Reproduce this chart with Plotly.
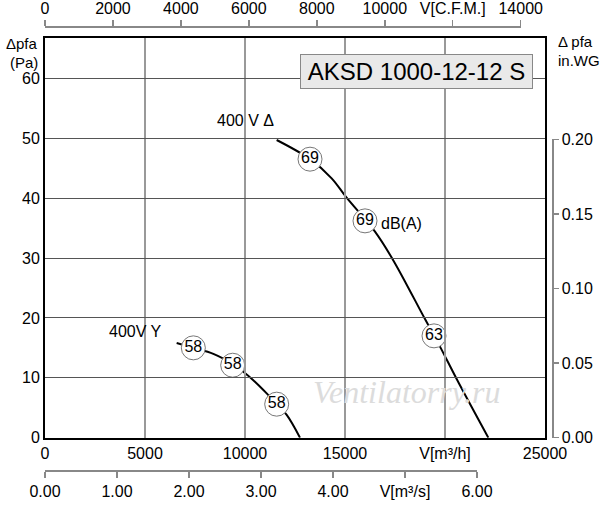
import plotly.graph_objects as go

# ---------------- data ----------------
# 400 V Delta curve (m3/h, Pa)
delta_q = [11583, 13250, 14333, 15050, 16500, 17417, 19000, 19750, 20583, 22167]
delta_p = [49.7, 46.5, 43.3, 40.2, 34.4, 29.6, 19.8, 15.2, 9.8, 0.0]
# 400 V Y curve
star_q = [6583, 7417, 8417, 9385, 9915, 10415, 11085, 11585, 12085, 12750]
star_p = [15.8, 15.0, 14.0, 12.3, 11.0, 9.6, 7.4, 5.6, 3.8, 0.0]

# noise markers (dB(A))
delta_lbl_q = [13250, 16000, 19450]
delta_lbl_p = [46.5, 36.2, 17.0]
delta_lbl = ["69", "69", "63"]
star_lbl_q = [7417, 9385, 11585]
star_lbl_p = [15.0, 12.1, 5.6]
star_lbl = ["58", "58", "58"]

# axes
x_ticks = [0, 5000, 10000, 15000, 20000, 25000]
x_text = ["0", "5000", "10000", "15000", "V[m³/h]", "25000"]
y_ticks = [0, 10, 20, 30, 40, 50, 60]
cfm_ticks = [0, 2000, 4000, 6000, 8000, 10000, 12000, 14000]
cfm_text = ["0", "2000", "4000", "6000", "8000", "10000", "V[C.F.M.]", "14000"]
ms_ticks = [0, 1, 2, 3, 4, 5, 6]
ms_text = ["0.00", "1.00", "2.00", "3.00", "4.00", "V[m³/s]", "6.00"]
wg_ticks = [0, 0.05, 0.10, 0.15, 0.20]
wg_text = ["0.00", "0.05", "0.10", "0.15", "0.20"]

# ---------------- layout geometry (pixels) ----------------
W, H = 600, 505


def px_x(x):
    return x / W


def px_y(y):
    return (H - y) / H


FONT = "Liberation Sans, Arial, sans-serif"

fig = go.Figure()

# curves
for qs, ps in [(delta_q, delta_p), (star_q, star_p)]:
    fig.add_trace(go.Scatter(x=qs, y=ps, mode="lines",
                             line=dict(color="black", width=2, shape="spline", smoothing=1.0),
                             hoverinfo="skip", showlegend=False))

# circled noise labels
for qs, ps, ts in [(delta_lbl_q, delta_lbl_p, delta_lbl), (star_lbl_q, star_lbl_p, star_lbl)]:
    fig.add_trace(go.Scatter(x=qs, y=ps, mode="markers+text", text=ts,
                             textposition="middle center",
                             textfont=dict(family=FONT, size=16, color="black"),
                             marker=dict(symbol="circle", size=24, color="white",
                                         line=dict(color="#777777", width=1)),
                             hoverinfo="skip", showlegend=False))

# dummy traces to activate secondary axes
fig.add_trace(go.Scatter(x=[cfm_ticks[0], cfm_ticks[-1]], y=[0, 0], xaxis="x2", yaxis="y",
                         mode="markers", marker=dict(opacity=0), hoverinfo="skip", showlegend=False))
fig.add_trace(go.Scatter(x=[ms_ticks[0], ms_ticks[-1]], y=[0, 0], xaxis="x3", yaxis="y",
                         mode="markers", marker=dict(opacity=0), hoverinfo="skip", showlegend=False))
fig.add_trace(go.Scatter(x=[0, 0], y=[wg_ticks[0], wg_ticks[-1]], xaxis="x", yaxis="y2",
                         mode="markers", marker=dict(opacity=0), hoverinfo="skip", showlegend=False))

x0, x1 = px_x(45), px_x(545)
y0, y1 = px_y(437.7), px_y(38)
tickfont = dict(family=FONT, size=16, color="black")

fig.update_layout(
    width=W, height=H, autosize=False,
    margin=dict(l=0, r=0, t=0, b=0, pad=0),
    paper_bgcolor="white", plot_bgcolor="rgba(0,0,0,0)",
    font=dict(family=FONT, size=16, color="black"),
    xaxis=dict(domain=[x0, x1], range=[0, 25000], tickvals=x_ticks, ticktext=x_text,
               showgrid=True, gridcolor="#999999", gridwidth=1.5, zeroline=False,
               showline=True, linecolor="black", linewidth=2, mirror=True, automargin=False,
               ticks="", tickfont=tickfont, anchor="y", fixedrange=True),
    yaxis=dict(domain=[y0, y1], range=[0, 66.73], tickvals=y_ticks,
               showgrid=True, gridcolor="#555555", gridwidth=1, zeroline=False,
               showline=True, linecolor="black", linewidth=2, mirror=True, automargin=False,
               ticks="", tickfont=tickfont, anchor="x", fixedrange=True),
    xaxis2=dict(domain=[x0, px_x(520.7)], range=[0, 14000], tickvals=cfm_ticks, ticktext=cfm_text,
                anchor="free", position=px_y(26), side="top", showgrid=False, zeroline=False,
                showline=True, linecolor="#888888", linewidth=1.5, automargin=False,
                ticks="outside", ticklen=6, tickcolor="#888888", tickwidth=1.5,
                tickfont=tickfont, fixedrange=True),
    xaxis3=dict(domain=[x0, px_x(477)], range=[0, 6], tickvals=ms_ticks, ticktext=ms_text,
                anchor="free", position=px_y(470), side="bottom", showgrid=False, zeroline=False,
                showline=True, linecolor="#888888", linewidth=1.5, automargin=False,
                ticks="outside", ticklen=6, tickcolor="#888888", tickwidth=1.5,
                tickfont=tickfont, fixedrange=True),
    yaxis2=dict(domain=[y0, px_y(139.3)], range=[0, 0.20], tickvals=wg_ticks, ticktext=wg_text,
                anchor="free", position=px_x(552), side="right", showgrid=False, zeroline=False,
                showline=True, linecolor="#888888", linewidth=1.5, automargin=False,
                ticks="outside", ticklen=5, tickcolor="#888888", tickwidth=1.5,
                tickfont=tickfont, fixedrange=True),
)

ann = []


def add_text(txt, x, y, size=16, xanchor="center", color="black", family=FONT, style="normal"):
    ann.append(dict(text=txt, x=px_x(x), y=px_y(y), xref="paper", yref="paper",
                    showarrow=False, xanchor=xanchor, yanchor="middle",
                    font=dict(family=family, size=size, color=color, style=style)))


add_text("Δpfa", 40, 44, size=15, xanchor="right")
add_text("(Pa)", 40, 62, size=15, xanchor="right")
add_text("Δ pfa", 556, 42, size=15, xanchor="left")
add_text("in.WG", 556, 60, size=15, xanchor="left")
add_text("400 V Δ", 245, 120, size=16)
add_text("400V Y", 135, 332, size=16)
add_text("dB(A)", 379, 224, size=16, xanchor="left")
add_text("Ventilatorry.ru", 407, 392, size=32, color="#dcdcdc",
         family="Liberation Serif, serif", style="italic")
ann.append(dict(text="AKSD 1000-12-12 S", x=px_x(416.5), y=px_y(71.5), xref="paper", yref="paper",
                showarrow=False, xanchor="center", yanchor="middle",
                font=dict(family=FONT, size=24, color="black"),
                bgcolor="#e9e9e9", bordercolor="#888888", borderwidth=1,
                width=229, height=31))
fig.update_layout(annotations=ann)

fig.write_html("out.html", config={"displayModeBar": False, "staticPlot": True},
               post_script="document.body.style.margin='0px';document.body.style.overflow='hidden';")
